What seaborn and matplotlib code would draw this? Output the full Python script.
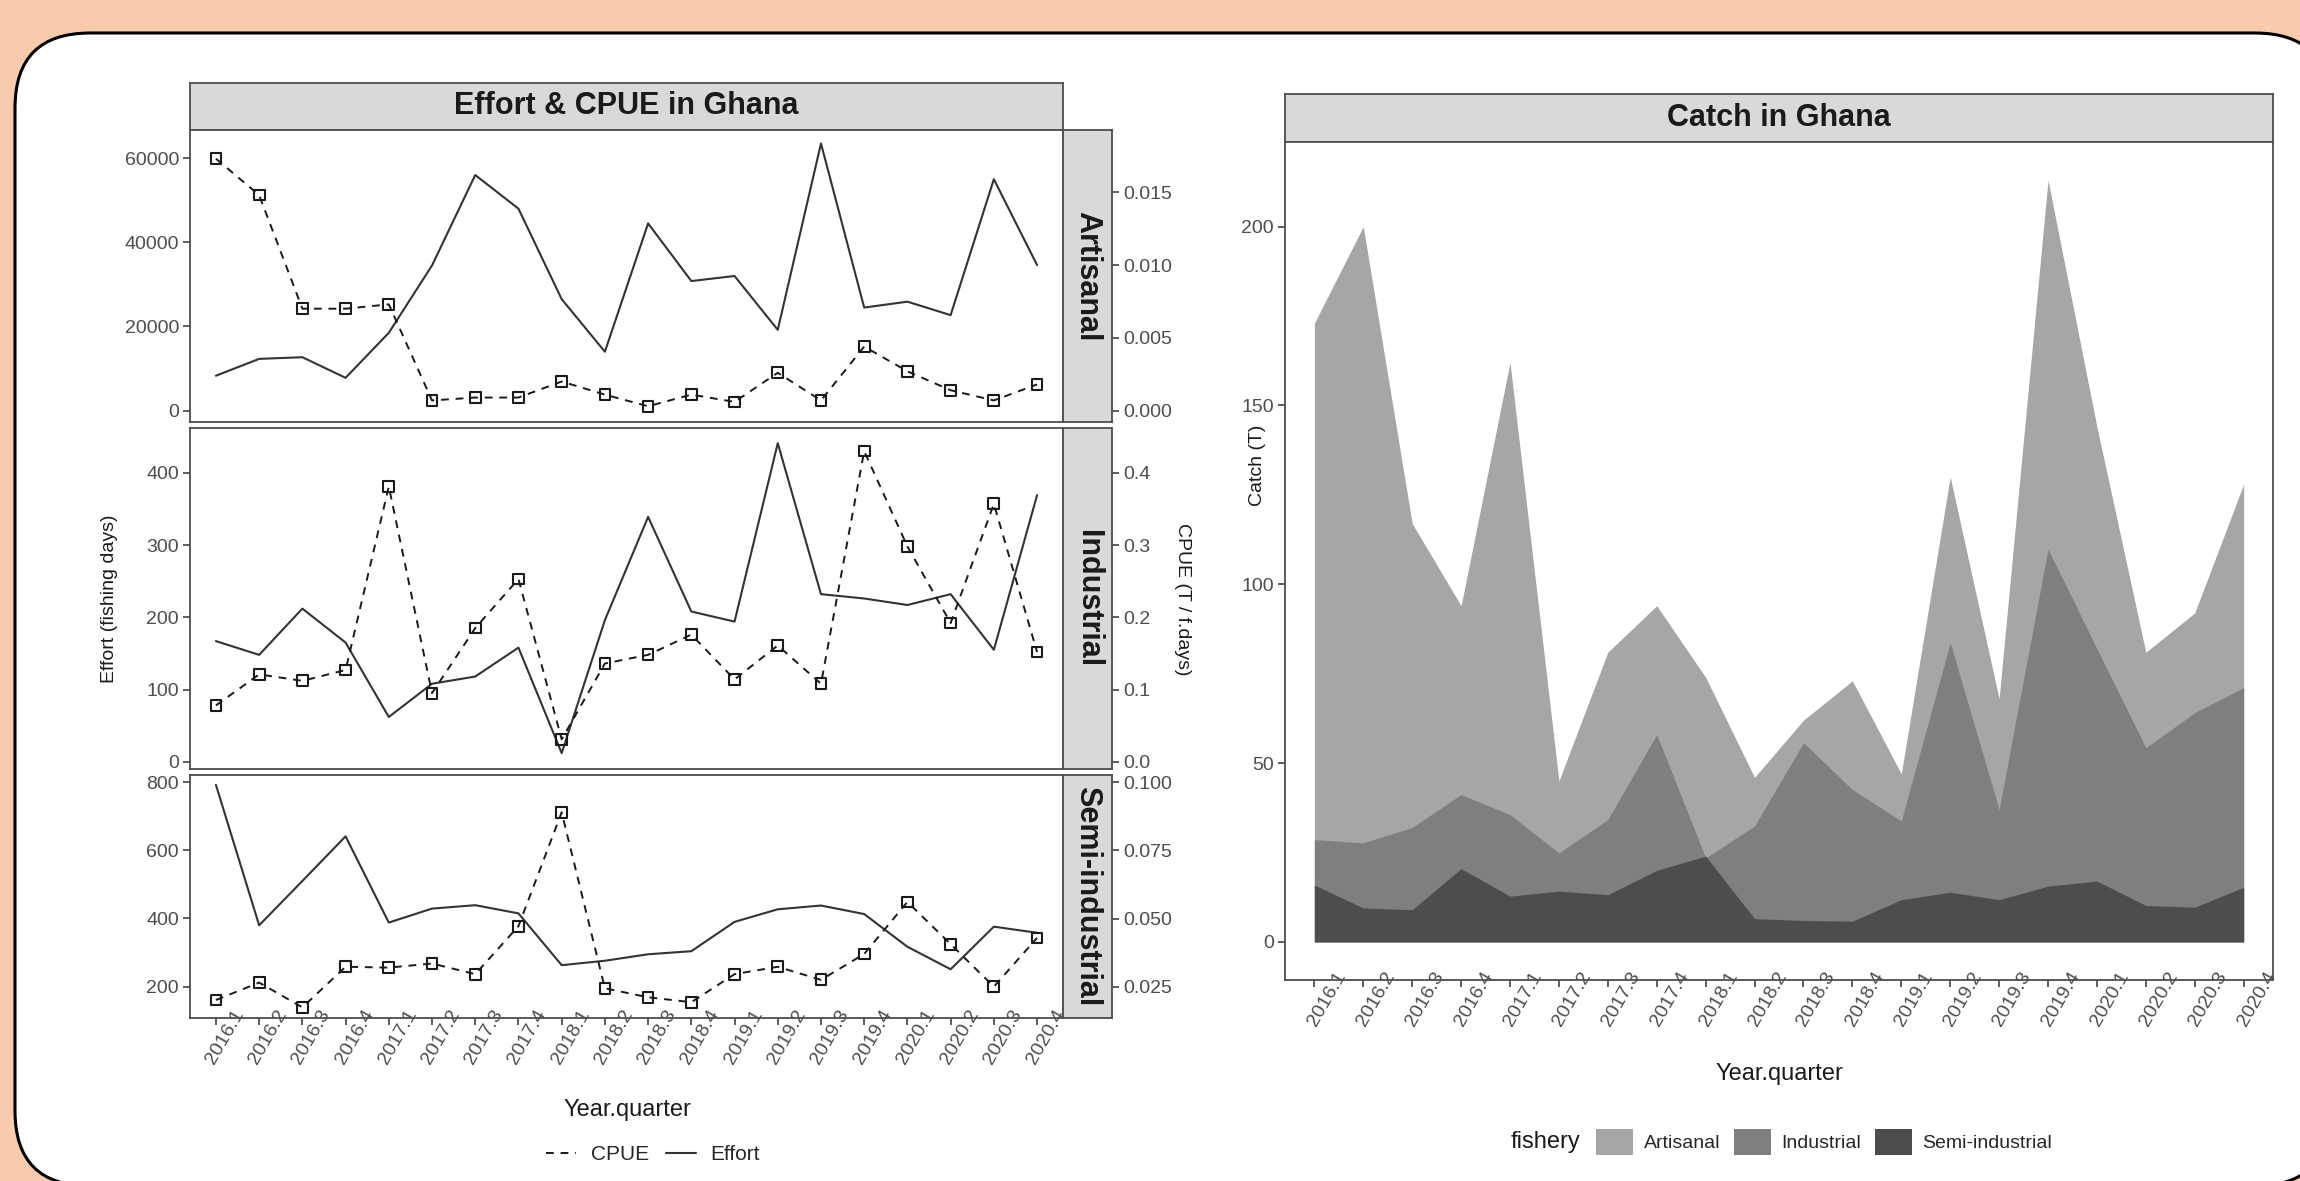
import numpy as np
import pandas as pd
import matplotlib
matplotlib.use("Agg")
import matplotlib.pyplot as plt
import seaborn as sns
import matplotlib.transforms as mtransforms
from matplotlib.patches import FancyBboxPatch, Patch
from matplotlib.lines import Line2D

# ---------------- data ----------------
quarters = ["2016.1", "2016.2", "2016.3", "2016.4", "2017.1", "2017.2", "2017.3", "2017.4",
            "2018.1", "2018.2", "2018.3", "2018.4", "2019.1", "2019.2", "2019.3", "2019.4",
            "2020.1", "2020.2", "2020.3", "2020.4"]

effort_artisanal = [8300, 12300, 12700, 7800, 18500, 34500, 56000, 48000, 26500, 14000,
                    44500, 30800, 32000, 19200, 63500, 24500, 25900, 22700, 55000, 34600]
cpue_artisanal = [0.0173, 0.0148, 0.0070, 0.0070, 0.0073, 0.0007, 0.0009, 0.0009, 0.0020, 0.0011,
                  0.0003, 0.0011, 0.0006, 0.0026, 0.0007, 0.0044, 0.0027, 0.0014, 0.0007, 0.0018]

effort_industrial = [167, 148, 212, 165, 62, 108, 118, 158, 12, 196,
                     339, 208, 194, 441, 232, 226, 217, 232, 155, 369]
cpue_industrial = [0.078, 0.121, 0.112, 0.127, 0.381, 0.095, 0.185, 0.253, 0.031, 0.136,
                   0.148, 0.176, 0.114, 0.161, 0.108, 0.430, 0.298, 0.192, 0.357, 0.152]

effort_semi = [792, 380, 510, 641, 388, 429, 439, 415, 263, 276,
               295, 304, 390, 427, 438, 413, 317, 251, 376, 358]
cpue_semi = [0.0201, 0.0265, 0.0174, 0.0323, 0.0320, 0.0335, 0.0296, 0.0472, 0.0890, 0.0244,
             0.0211, 0.0193, 0.0296, 0.0323, 0.0275, 0.0370, 0.0561, 0.0406, 0.0250, 0.0429]

catch_artisanal = [173, 200, 117, 94, 162, 45, 81, 94, 74, 46,
                   62, 73, 47, 130, 68, 213, 144, 81, 92, 128]
catch_industrial = [28.6, 27.7, 32.0, 41.2, 35.6, 24.9, 34.2, 58.0, 23.5, 32.4,
                    55.7, 42.6, 33.8, 83.7, 37.0, 109.8, 82.0, 54.3, 64.1, 71.1]
catch_semi = [15.9, 9.5, 9.0, 20.5, 12.8, 14.2, 13.2, 20.0, 24.0, 6.5,
              6.0, 5.8, 11.8, 13.9, 11.8, 15.6, 17.0, 10.2, 9.7, 15.3]

fisheries = ["Artisanal", "Industrial", "Semi-industrial"]
fishery_colors = ["#A6A6A6", "#7F7F7F", "#4D4D4D"]

# ---------------- style ----------------
sns.set_theme(style="white")
plt.rcParams["font.family"] = ["Liberation Sans", "DejaVu Sans"]

W, H, DPI = 2300, 1181, 100
TXT = "#1A1A1A"
TICKC = "#4D4D4D"
EDGE = "#4D4D4D"

fig = plt.figure(figsize=(W / DPI, H / DPI), dpi=DPI)
fig.patch.set_facecolor("#F8CBAD")

box = FancyBboxPatch((0.15, -0.05), 23.15, 11.53,
                     boxstyle="round,pad=0,rounding_size=0.75",
                     transform=fig.dpi_scale_trans, facecolor="white",
                     edgecolor="black", linewidth=2.2, zorder=-5)
fig.add_artist(box)


def add_ax(x0, y0, x1, y1):
    return fig.add_axes([x0 / W, 1 - y1 / H, (x1 - x0) / W, (y1 - y0) / H])


def strip(x0, y0, x1, y1, text, rot=0, size=22):
    s = add_ax(x0, y0, x1, y1)
    s.set_facecolor("#D9D9D9")
    s.set_xticks([])
    s.set_yticks([])
    for sp in s.spines.values():
        sp.set_color(EDGE)
        sp.set_linewidth(1.3)
    s.text(0.5, 0.5, text, rotation=rot, ha="center", va="center", fontsize=size,
           fontweight="bold", color=TXT, transform=s.transAxes)
    return s


def style_spines(ax):
    for sp in ax.spines.values():
        sp.set_visible(True)
        sp.set_color(EDGE)
        sp.set_linewidth(1.3)


def rotated_xlabels(ax, labels, dx_px):
    ax.set_xticks(np.arange(len(labels)))
    ax.tick_params(axis="x", bottom=True, length=5, width=1.1, color="#333333",
                   labelsize=14, labelcolor=TICKC, pad=8.6)
    ax.set_xticklabels(labels)
    off = mtransforms.ScaledTranslation(dx_px / DPI, 0, fig.dpi_scale_trans)
    for lab in ax.get_xticklabels():
        lab.set_rotation(60)
        lab.set_ha("center")
        lab.set_va("center")
        lab.set_transform(lab.get_transform() + off)


xpos = np.arange(len(quarters))

# ---------------- left: Effort & CPUE ----------------
LX0, LX1, SX1 = 190, 1063, 1112
strip(LX0, 83, LX1, 130, "Effort & CPUE in Ghana")

panels = [
    ("Artisanal", effort_artisanal, cpue_artisanal, 130, 422,
     (-2700, 66700), (-0.00078, 0.01927),
     [0, 20000, 40000, 60000], ["0", "20000", "40000", "60000"],
     [0, 0.005, 0.010, 0.015], ["0.000", "0.005", "0.010", "0.015"]),
    ("Industrial", effort_industrial, cpue_industrial, 428, 769,
     (-10, 462), (-0.010, 0.462),
     [0, 100, 200, 300, 400], ["0", "100", "200", "300", "400"],
     [0, 0.1, 0.2, 0.3, 0.4], ["0.0", "0.1", "0.2", "0.3", "0.4"]),
    ("Semi-industrial", effort_semi, cpue_semi, 775, 1018,
     (108, 821), (0.0135, 0.1027),
     [200, 400, 600, 800], ["200", "400", "600", "800"],
     [0.025, 0.050, 0.075, 0.100], ["0.025", "0.050", "0.075", "0.100"]),
]

for i, (name, eff, cp, top, bot, elim, clim, et, etl, ct, ctl) in enumerate(panels):
    ax = add_ax(LX0, top, LX1, bot)
    ax2 = ax.twinx()
    df = pd.DataFrame({"q": xpos, "effort": eff, "cpue": cp})
    sns.lineplot(data=df, x="q", y="effort", ax=ax, color="#333333", linewidth=1.5)
    sns.lineplot(data=df, x="q", y="cpue", ax=ax2, color=TXT, linewidth=1.4,
                 linestyle=(0, (4, 3.5)))
    sns.scatterplot(data=df, x="q", y="cpue", ax=ax2, marker="s", s=60,
                    facecolor="none", edgecolor=TXT, linewidth=1.5, zorder=5)
    ax.set_xlim(-0.6, 19.6)
    ax.set_ylim(*elim)
    ax2.set_ylim(*clim)
    ax.set_xlabel("")
    ax.set_ylabel("")
    ax2.set_xlabel("")
    ax2.set_ylabel("")
    style_spines(ax)
    for k in ["top", "left", "bottom"]:
        ax2.spines[k].set_visible(False)
    ax2.spines["right"].set_position(("outward", (SX1 - LX1) * 0.72))
    ax2.spines["right"].set_visible(False)
    ax.set_yticks(et)
    ax.set_yticklabels(etl)
    ax2.set_yticks(ct)
    ax2.set_yticklabels(ctl)
    ax.tick_params(axis="y", left=True, right=False, length=5, width=1.1, color="#333333",
                   labelsize=14, labelcolor=TICKC, pad=3)
    ax2.tick_params(axis="y", right=True, left=False, length=5, width=1.1, color="#333333",
                    labelsize=14, labelcolor=TICKC, pad=3)
    if i < 2:
        ax.tick_params(axis="x", bottom=False, labelbottom=False)
        ax.set_xticks(xpos)
    else:
        rotated_xlabels(ax, quarters, 9)
    strip(LX1, top, SX1, bot, name, rot=-90)

fig.text(110 / W, 1 - 599 / H, "Effort (fishing days)", rotation=90, ha="center",
         va="center", fontsize=14, color=TXT)
fig.text(1182 / W, 1 - 599 / H, "CPUE (T / f.days)", rotation=-90, ha="center",
         va="center", fontsize=14, color=TXT)
fig.text(627 / W, 1 - 1110 / H, "Year.quarter", ha="center", va="center",
         fontsize=17, color=TXT)

lh = [Line2D([0], [0], color=TXT, lw=1.4, linestyle=(0, (4, 3.5))),
      Line2D([0], [0], color="#333333", lw=1.5)]
fig.legend(lh, ["CPUE", "Effort"], loc="center", bbox_to_anchor=(653 / W, 1 - 1155 / H),
           ncol=2, frameon=False, fontsize=15, handlelength=1.45, handletextpad=0.7,
           columnspacing=0.8, borderpad=0, borderaxespad=0)

# ---------------- right: Catch ----------------
RX0, RY0, RX1, RY1 = 1285, 142, 2273, 980
strip(RX0, 94, RX1, RY0, "Catch in Ghana")
axc = add_ax(RX0, RY0, RX1, RY1)
catch_series = [catch_artisanal, catch_industrial, catch_semi]
for vals, col in zip(catch_series, fishery_colors):
    axc.fill_between(xpos, 0, vals, color=col, linewidth=0)
axc.set_xlim(-0.6, 19.6)
axc.set_ylim(-10.65, 223.65)
axc.set_yticks([0, 50, 100, 150, 200])
axc.tick_params(axis="y", left=True, length=5, width=1.1, color="#333333",
                labelsize=14, labelcolor=TICKC, pad=3)
style_spines(axc)
rotated_xlabels(axc, quarters, 13)
axc.set_xlabel("")
axc.set_ylabel("")

fig.text(1257 / W, 1 - 465 / H, "Catch (T)", rotation=90, ha="center", va="center",
         fontsize=14, color=TXT)
fig.text(1779 / W, 1 - 1074 / H, "Year.quarter", ha="center", va="center",
         fontsize=17, color=TXT)

fig.text(1511 / W, 1 - 1142 / H, "fishery", ha="left", va="center", fontsize=17, color=TXT)
ph = [Patch(facecolor=c, edgecolor="none") for c in fishery_colors]
fig.legend(ph, fisheries, loc="center left", bbox_to_anchor=(1596 / W, 1 - 1142 / H),
           ncol=3, frameon=False, fontsize=14, handlelength=1.9, handleheight=1.75,
           handletextpad=0.55, columnspacing=0.7, borderpad=0, borderaxespad=0)

fig.savefig("out.png", dpi=DPI, facecolor=fig.get_facecolor())
